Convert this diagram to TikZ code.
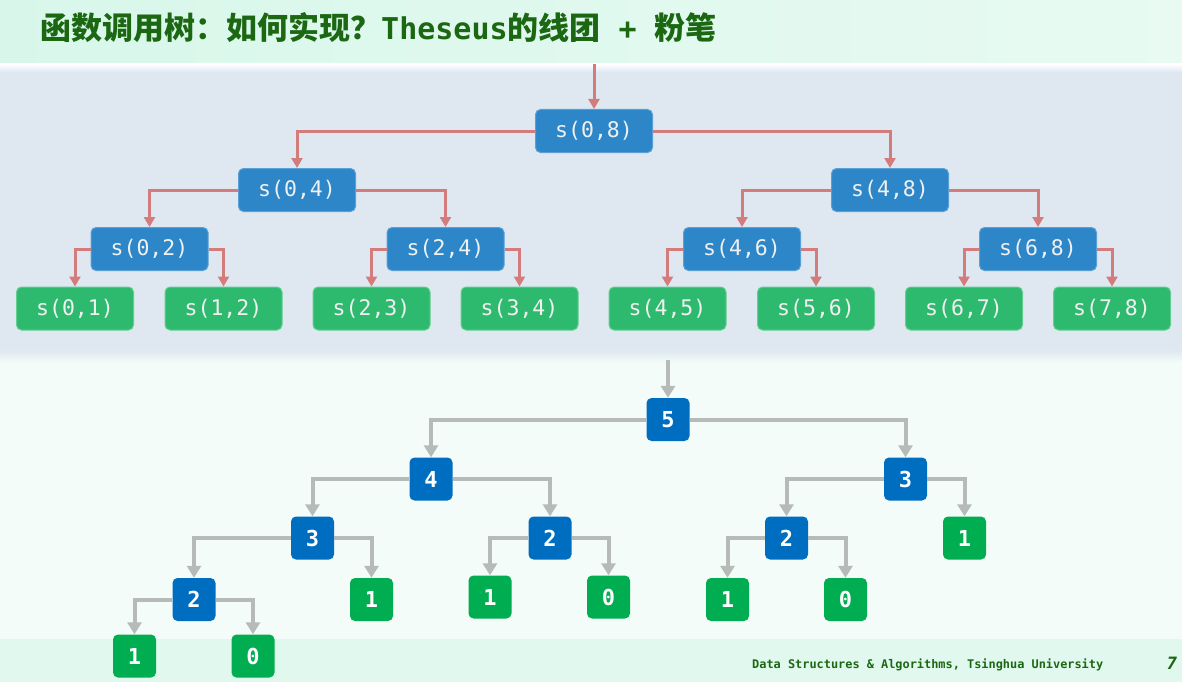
\documentclass[tikz,border=0pt]{standalone}
\usepackage{fontspec}
\usetikzlibrary{arrows.meta}
\newfontfamily\cjk{Noto Sans CJK SC}
\newfontfamily\mono{DejaVu Sans Mono}
\definecolor{titlegreen}{RGB}{28,104,18}
\definecolor{mintA}{RGB}{216,247,234}
\definecolor{mintB}{RGB}{232,250,242}
\definecolor{panel}{RGB}{223,232,241}
\definecolor{lowbg}{RGB}{243,252,248}
\definecolor{footbg}{RGB}{224,248,238}
\definecolor{ublue}{RGB}{45,134,200}
\definecolor{ubluerim}{RGB}{90,160,215}
\definecolor{ugreen}{RGB}{46,186,110}
\definecolor{ugreenrim}{RGB}{100,205,145}
\definecolor{lblue}{RGB}{0,110,192}
\definecolor{lgreen}{RGB}{0,173,80}
\definecolor{redlink}{RGB}{212,123,123}
\definecolor{graylink}{RGB}{183,187,184}
\tikzset{
  x=1pt, y=-1pt,
  callbox/.style={rounded corners=5pt, line width=1pt, minimum width=117pt,
    minimum height=43pt, inner sep=0pt, text=white!94!black,
    font=\mono\fontsize{21.5}{24}\selectfont},
  callmid/.style={callbox, fill=ublue, draw=ubluerim},
  callleaf/.style={callbox, fill=ugreen, draw=ugreenrim},
  valbox/.style={rounded corners=5pt, minimum width=43pt, minimum height=43pt,
    inner sep=0pt, text=white, font=\mono\bfseries\fontsize{22}{24}\selectfont},
  valmid/.style={valbox, fill=lblue},
  valleaf/.style={valbox, fill=lgreen},
  redlinkstyle/.style={draw=redlink, line width=3pt,
    -{Triangle[width=11pt,length=10pt]}, color=redlink},
  graylinkstyle/.style={draw=graylink, line width=4pt,
    -{Triangle[width=14pt,length=12pt]}, color=graylink},
}
\begin{document}
\begin{tikzpicture}
\useasboundingbox (0,0) rectangle (1182,682);
% backgrounds
\fill[lowbg] (0,0) rectangle (1182,682);
\shade[left color=mintA, right color=mintB] (0,0) rectangle (1182,64);
\shade[top color=white, bottom color=panel] (0,64) rectangle (1182,72);
\fill[panel] (0,72) rectangle (1182,350);
\shade[top color=panel, bottom color=lowbg!95!mintA] (0,350) rectangle (1182,362);
\fill[footbg] (0,639) rectangle (1182,682);

% title
\node[anchor=base west, inner sep=0pt, text=titlegreen] (title) at (40,40)
  {\cjk\bfseries\fontsize{31}{36}\selectfont 函数调用树：如何实现？{\mono\bfseries\fontsize{30}{36}\selectfont Theseus}的线团{\mono\bfseries\fontsize{30}{36}\selectfont\ +\ }粉笔};

% upper tree: calls s(lo,hi)
\node[callmid] (s08) at (594,131) {s(0,8)};
\node[callmid] (s04) at (297,190) {s(0,4)};
\node[callmid] (s48) at (890,190) {s(4,8)};
\node[callmid] (s02) at (149.5,249) {s(0,2)};
\node[callmid] (s24) at (445.5,249) {s(2,4)};
\node[callmid] (s46) at (742,249) {s(4,6)};
\node[callmid] (s68) at (1038,249) {s(6,8)};
\node[callleaf] (s01) at (75,308.5) {s(0,1)};
\node[callleaf] (s12) at (223.5,308.5) {s(1,2)};
\node[callleaf] (s23) at (371.5,308.5) {s(2,3)};
\node[callleaf] (s34) at (519.5,308.5) {s(3,4)};
\node[callleaf] (s45) at (667.5,308.5) {s(4,5)};
\node[callleaf] (s56) at (816,308.5) {s(5,6)};
\node[callleaf] (s67) at (964,308.5) {s(6,7)};
\node[callleaf] (s78) at (1112,308.5) {s(7,8)};

\coordinate (sin) at (594,64);
\draw[redlinkstyle] (sin) -- (s08.north);
\foreach \p/\l/\r in {s08/s04/s48, s04/s02/s24, s48/s46/s68,
                      s02/s01/s12, s24/s23/s34, s46/s45/s56, s68/s67/s78}{
  \draw[redlinkstyle] (\p.west) -| (\l.north);
  \draw[redlinkstyle] (\p.east) -| (\r.north);
}

% lower tree: values
\node[valmid] (v5) at (668,419.5) {5};
\node[valmid] (v4) at (431,479) {4};
\node[valmid] (v3r) at (905.5,479) {3};
\node[valmid] (v3) at (312.5,538) {3};
\node[valmid] (v2m) at (550,538) {2};
\node[valmid] (v2r) at (786.5,538) {2};
\node[valleaf] (v1r) at (964.5,538) {1};
\node[valmid] (v2) at (194,599.5) {2};
\node[valleaf] (v1a) at (371.5,599.5) {1};
\node[valleaf] (v1b) at (490,597) {1};
\node[valleaf] (v0b) at (608.5,597) {0};
\node[valleaf] (v1c) at (727.5,599.5) {1};
\node[valleaf] (v0c) at (845.5,599.5) {0};
\node[valleaf] (v1d) at (134.5,656) {1};
\node[valleaf] (v0d) at (253,656) {0};

\coordinate (vin) at (668,360);
\draw[graylinkstyle] (vin) -- (v5.north);
\foreach \p/\l/\r in {v5/v4/v3r, v4/v3/v2m, v3r/v2r/v1r, v3/v2/v1a,
                      v2m/v1b/v0b, v2r/v1c/v0c, v2/v1d/v0d}{
  \draw[graylinkstyle] (\p.west) -| (\l.north);
  \draw[graylinkstyle] (\p.east) -| (\r.north);
}

% footer
\node[anchor=base west, inner sep=0pt, text=titlegreen,
  font=\mono\bfseries\fontsize{11.9}{14}\selectfont] (foot) at (752,668)
  {Data Structures \& Algorithms, Tsinghua University};
\node[anchor=base, inner sep=0pt, text=titlegreen,
  font=\mono\bfseries\itshape\fontsize{17}{18}\selectfont] (page) at (1172,669) {7};
\end{tikzpicture}
\end{document}
